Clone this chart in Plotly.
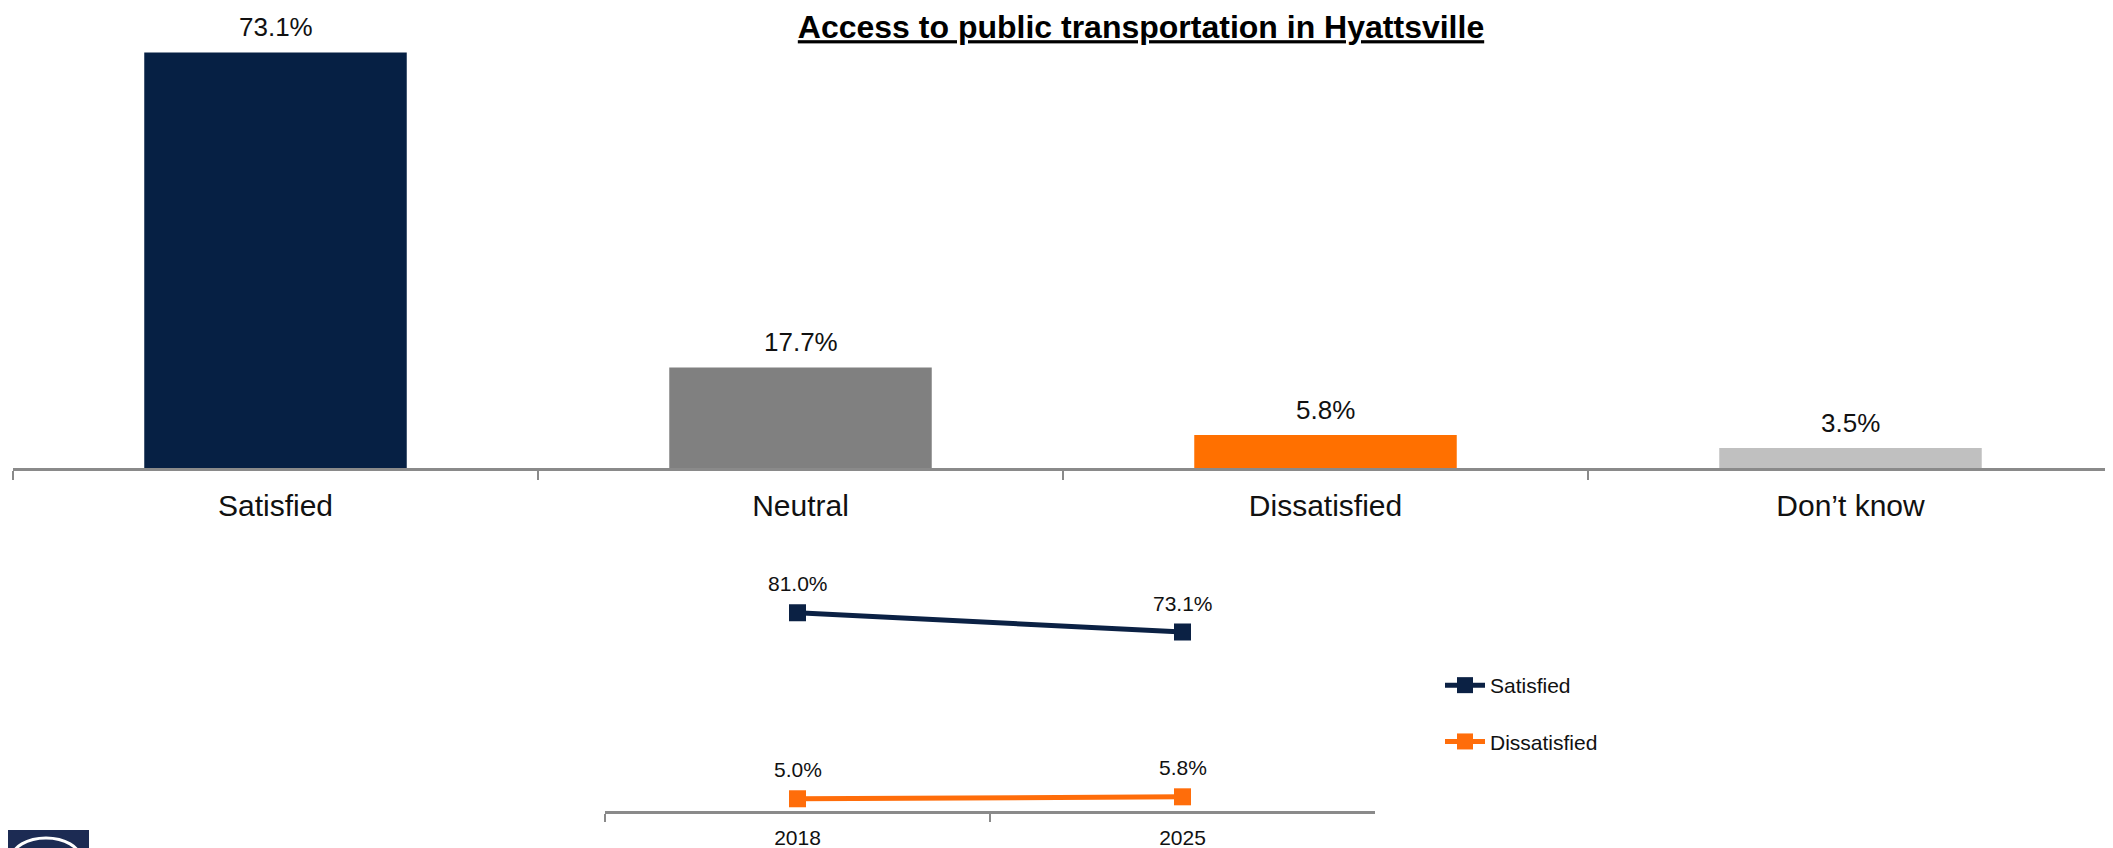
import plotly.graph_objects as go

# ---------------- data ----------------
categories = ["Satisfied", "Neutral", "Dissatisfied", "Don\u2019t know"]
values = [73.1, 17.7, 5.8, 3.5]

years = ["2018", "2025"]
satisfied_trend = [81.0, 73.1]
dissatisfied_trend = [5.0, 5.8]

title_text = "Access to public transportation in Hyattsville"

# ---------------- styles / geometry ----------------
PAGE_OFF = 8                      # default body margin of the html page
W, H = 2113 - PAGE_OFF, 848 - PAGE_OFF


def px(xpage):
    return (xpage - PAGE_OFF) / W


def py(ypage):
    return 1 - (ypage - PAGE_OFF) / H


bar_colors = ["#062044", "#808080", "#FF7000", "#C0C0C0"]
navy = "#0B2144"
orange = "#FF6D0A"
axis_gray = "#8A8A8A"
FONT = "Liberation Sans, Arial, sans-serif"

fig = go.Figure()

fig.add_trace(go.Bar(
    x=categories, y=values, marker=dict(color=bar_colors, line=dict(width=0)),
    width=0.5, showlegend=False, hoverinfo="skip", xaxis="x", yaxis="y",
))

fig.add_trace(go.Scatter(
    x=years, y=satisfied_trend, mode="lines+markers", name="Satisfied",
    line=dict(color=navy, width=5), marker=dict(symbol="square", size=17, color=navy),
    xaxis="x2", yaxis="y2", legendgroup="a",
))
fig.add_trace(go.Scatter(
    x=years, y=dissatisfied_trend, mode="lines+markers", name="Dissatisfied",
    line=dict(color=orange, width=5), marker=dict(symbol="square", size=17, color=orange),
    xaxis="x2", yaxis="y2", legendgroup="b",
))

annotations = []
for i, v in enumerate(values):
    annotations.append(dict(
        x=i, y=v, xref="x", yref="y", text=f"{v:.1f}%", showarrow=False,
        yanchor="middle", yshift=25, font=dict(size=26, color="#111111", family=FONT),
    ))
for series in (satisfied_trend, dissatisfied_trend):
    for i, v in enumerate(series):
        annotations.append(dict(
            x=i, y=v, xref="x2", yref="y2", text=f"{v:.1f}%", showarrow=False,
            yanchor="middle", yshift=29, font=dict(size=21, color="#111111", family=FONT),
        ))

fig.update_layout(
    width=W, height=H,
    margin=dict(l=0, r=0, t=0, b=0, autoexpand=False),
    paper_bgcolor="white", plot_bgcolor="white",
    font=dict(family=FONT, color="#111111"),
    title=dict(
        text=f"<b><u>{title_text}</u></b>",
        x=px(1141), xanchor="center", xref="paper",
        y=py(27), yanchor="middle", yref="container",
        font=dict(family=FONT, size=32, color="black"),
    ),
    xaxis=dict(
        domain=[px(13), 1.0], type="category", range=[-0.5, 3.5],
        showline=True, linecolor=axis_gray, linewidth=2.5,
        ticks="outside", tickson="boundaries", ticklen=9, tickwidth=2, tickcolor=axis_gray,
        showgrid=False, zeroline=False,
        tickfont=dict(size=30, color="#111111", family=FONT),
        ticklabelstandoff=9,
    ),
    yaxis=dict(
        domain=[py(468), py(13.2)], range=[0, 80],
        visible=False, showgrid=False, zeroline=False,
    ),
    xaxis2=dict(
        domain=[px(605), px(1375)], type="category", range=[-0.5, 1.5], anchor="y2",
        showline=True, linecolor=axis_gray, linewidth=2.5,
        ticks="outside", tickson="boundaries", ticklen=8, tickwidth=2, tickcolor=axis_gray,
        showgrid=False, zeroline=False,
        tickfont=dict(size=21, color="#111111", family=FONT),
        ticklabelstandoff=6,
    ),
    yaxis2=dict(
        domain=[py(811), py(566.3)], range=[0, 100], anchor="x2",
        visible=False, showgrid=False, zeroline=False,
    ),
    legend=dict(
        x=px(1440), xanchor="left", y=py(665), yanchor="top",
        font=dict(size=21, color="#111111", family=FONT),
        bgcolor="rgba(0,0,0,0)", tracegroupgap=26, itemwidth=40,
    ),
    annotations=annotations,
    shapes=[
        dict(type="rect", xref="paper", yref="paper", x0=px(0), x1=px(89), y0=py(848), y1=py(830),
             fillcolor="#1C2B53", line=dict(width=0), layer="above"),
        dict(type="circle", xref="paper", yref="paper", x0=px(12), x1=px(80),
             y0=py(878), y1=py(838), line=dict(color="white", width=3), layer="above"),
    ],
)

fig.write_html("out.html")
